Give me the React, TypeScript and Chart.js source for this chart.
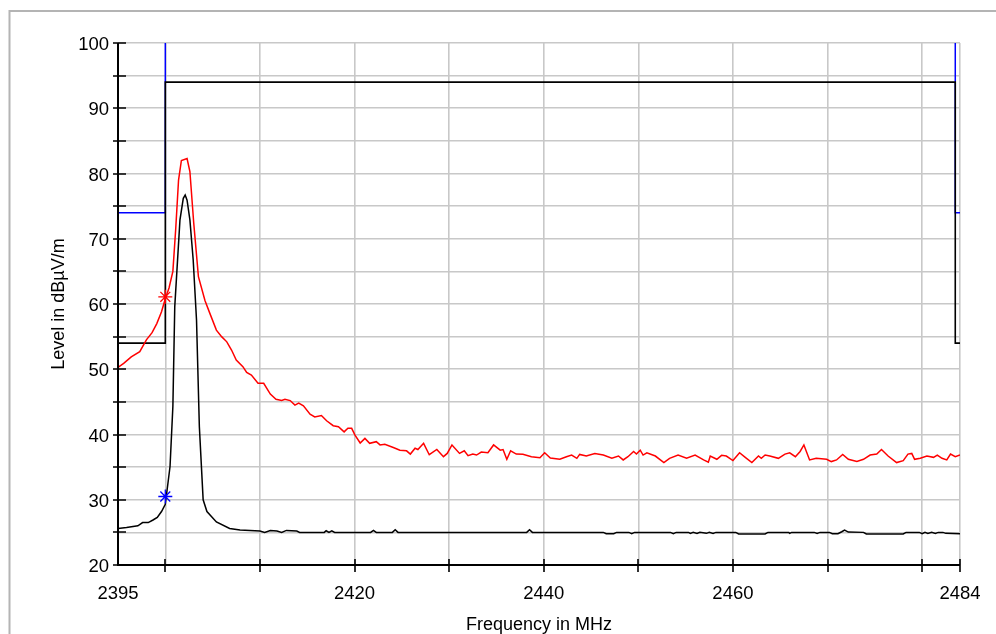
import React, { useEffect, useRef } from "react";
import { Chart, registerables } from "chart.js";

Chart.register(...registerables);

// ---- Data ----
const redFreq = [
  2395.0, 2395.6, 2396.4, 2397.3, 2398.0, 2398.6, 2399.1, 2399.6, 2400.0, 2400.4,
  2400.8, 2401.1, 2401.4, 2401.7, 2402.3, 2402.6, 2403.0, 2403.5, 2404.2, 2404.7,
  2405.4, 2405.95, 2406.5, 2407.0, 2407.5, 2408.2, 2408.6, 2409.1, 2409.8, 2410.4,
  2411.1, 2411.7, 2412.3, 2412.65, 2413.2, 2413.7, 2414.1, 2414.6, 2415.3, 2415.8,
  2416.5, 2417.05, 2417.75, 2418.3, 2418.9, 2419.3, 2419.7, 2420.05, 2420.6, 2421.1,
  2421.6, 2422.3, 2422.7, 2423.2, 2424.1, 2424.8, 2425.5, 2425.9, 2426.4, 2426.7,
  2427.3, 2427.9, 2428.7, 2429.4, 2429.8, 2430.3, 2431.1, 2431.6, 2432.0, 2432.5,
  2432.9, 2433.4, 2434.1, 2434.7, 2435.4, 2435.7, 2436.1, 2436.5, 2437.1, 2437.8,
  2438.7, 2439.6, 2440.1, 2440.7, 2441.7, 2442.4, 2442.95, 2443.5, 2443.8, 2444.5,
  2445.4, 2446.3, 2447.2, 2447.9, 2448.4, 2448.9, 2449.5, 2449.8, 2450.2, 2450.5,
  2450.9, 2451.8, 2452.7, 2453.3, 2454.2, 2455.1, 2456.0, 2456.9, 2457.4, 2457.6,
  2458.3, 2458.8, 2459.3, 2460.0, 2460.7, 2461.3, 2462.0, 2462.7, 2463.0, 2463.4,
  2463.9, 2464.8, 2465.5, 2466.0, 2466.6, 2467.1, 2467.5, 2468.1, 2468.8, 2469.9,
  2470.4, 2470.95, 2471.6, 2472.2, 2473.1, 2473.8, 2474.5, 2475.2, 2475.7, 2476.4,
  2477.3, 2478.0, 2478.5, 2478.9, 2479.2, 2479.8, 2480.5, 2481.2, 2481.6, 2482.1,
  2482.6, 2483.0, 2483.5, 2484.0,
];
const redLevel = [
  50.3, 50.9, 51.9, 52.7, 54.5, 55.6, 57.0, 58.8, 60.8, 62.5,
  65.0, 71.5, 79.0, 82.0, 82.3, 80.3, 72.5, 64.2, 60.5, 58.6,
  56.0, 55.0, 54.2, 52.95, 51.4, 50.4, 49.5, 49.1, 47.85, 47.85,
  46.2, 45.4, 45.2, 45.4, 45.2, 44.5, 44.8, 44.4, 43.1, 42.7,
  42.9, 42.1, 41.35, 41.2, 40.4, 40.95, 40.95, 39.9, 38.7, 39.4,
  38.65, 38.9, 38.4, 38.5, 38.0, 37.6, 37.5, 37.0, 37.9, 37.7,
  38.65, 36.9, 37.7, 36.6, 37.1, 38.4, 37.1, 37.5, 36.75, 37.0,
  36.85, 37.3, 37.2, 38.4, 37.6, 37.7, 36.2, 37.5, 37.0, 36.96,
  36.6, 36.45, 37.2, 36.4, 36.2, 36.6, 36.85, 36.35, 36.95, 36.7,
  37.1, 36.85, 36.35, 36.7, 36.1, 36.6, 37.4, 37.0, 37.6, 36.85,
  37.2, 36.7, 35.7, 36.35, 36.85, 36.35, 36.85, 36.1, 35.75, 36.7,
  36.2, 36.8, 36.7, 36.0, 37.2, 36.5, 35.7, 36.7, 36.35, 36.85,
  36.7, 36.35, 37.0, 37.2, 36.6, 37.4, 38.4, 36.1, 36.35, 36.2,
  35.85, 36.1, 36.95, 36.2, 35.85, 36.2, 36.85, 37.0, 37.7, 36.7,
  35.7, 36.0, 37.0, 37.1, 36.2, 36.35, 36.7, 36.5, 36.85, 36.35,
  36.1, 37.0, 36.6, 36.85,
];

const blackFreq = [
  2395.0, 2395.9, 2397.1, 2397.6, 2398.2, 2398.7, 2399.15, 2399.6, 2400.0, 2400.5,
  2400.8, 2401.0, 2401.55, 2401.9, 2402.1, 2402.3, 2402.6, 2402.95, 2403.3, 2403.6,
  2404.0, 2404.4, 2405.4, 2406.8, 2407.9, 2410.0, 2410.5, 2411.1, 2411.8, 2412.3,
  2412.8, 2413.9, 2414.2, 2416.8, 2417.0, 2417.3, 2417.6, 2417.9, 2421.7, 2422.0,
  2422.3, 2424.0, 2424.3, 2424.6, 2438.2, 2438.5, 2438.8, 2446.3, 2446.6, 2447.4,
  2447.7, 2449.0, 2449.3, 2449.6, 2453.4, 2453.7, 2454.0, 2455.3, 2455.5, 2455.8,
  2456.2, 2456.5, 2457.2, 2457.5, 2457.9, 2458.2, 2460.3, 2460.6, 2463.4, 2463.7,
  2465.9, 2466.0, 2466.2, 2468.6, 2468.9, 2469.2, 2470.2, 2470.5, 2471.1, 2471.5,
  2471.8, 2472.2, 2473.8, 2474.1, 2478.0, 2478.3, 2479.7, 2480.0, 2480.3, 2480.6,
  2481.0, 2481.4, 2481.7, 2482.2, 2482.5, 2484.0,
];
const blackLevel = [
  25.6, 25.75, 26.0, 26.5, 26.5, 26.9, 27.3, 28.2, 29.3, 35.1,
  44.3, 59.6, 72.9, 76.2, 76.7, 75.9, 72.9, 66.7, 57.5, 41.2,
  30.0, 28.2, 26.6, 25.6, 25.35, 25.2, 25.0, 25.3, 25.2, 25.0,
  25.3, 25.2, 25.0, 25.0, 25.25, 25.0, 25.25, 25.0, 25.0, 25.3,
  25.0, 25.0, 25.4, 25.0, 25.0, 25.4, 25.0, 25.0, 24.8, 24.8,
  25.0, 25.0, 24.8, 25.0, 25.0, 24.8, 25.0, 25.0, 24.85, 25.0,
  24.85, 25.0, 24.85, 25.0, 24.85, 25.0, 25.0, 24.75, 24.75, 25.0,
  25.0, 24.85, 25.0, 25.0, 24.85, 25.0, 25.0, 24.8, 24.8, 25.1,
  25.35, 25.05, 25.0, 24.75, 24.75, 25.0, 25.0, 24.8, 25.0, 24.85,
  25.0, 24.85, 25.0, 25.0, 24.85, 24.8,
];

// Limit lines (null = gap)
const avgLimitFreq = [2395, 2400, 2400, 2483.5, 2483.5, 2484];
const avgLimitLevel = [54, 54, 94, 94, 54, 54];
const peakLimitFreq = [2395, 2400, 2400, 2442, 2483.5, 2483.5, 2484];
const peakLimitLevel: (number | null)[] = [74, 74, 100, null, 100, 74, 74];

// Markers
const peakMarker = { freq: 2400, level: 61.1 };
const avgMarker = { freq: 2400, level: 30.5 };

// Axes
const xTickValues = [2395, 2400, 2410, 2420, 2430, 2440, 2450, 2460, 2470, 2480, 2484];
const xTickMarks = [2400, 2410, 2420, 2430, 2440, 2450, 2460, 2470, 2480, 2484];
const xLabelValues = [2395, 2420, 2440, 2460, 2484];
const yTickValues = [20, 25, 30, 35, 40, 45, 50, 55, 60, 65, 70, 75, 80, 85, 90, 95, 100];
const yLabelValues = [20, 30, 40, 50, 60, 70, 80, 90, 100];
const xTitle = "Frequency in MHz";
const yTitle = "Level in dBµV/m";

const FONT = "'Liberation Sans', Arial, Helvetica, sans-serif";

function pts(xs: number[], ys: (number | null)[]) {
  return xs.map((x, i) => ({ x, y: ys[i] }));
}

const decorPlugin = {
  id: "decor",
  beforeDraw(chart: any) {
    const ctx = chart.ctx;
    ctx.save();
    ctx.strokeStyle = "#b4b4b4";
    ctx.lineWidth = 2;
    ctx.strokeRect(9.5, 11, 1100, 1100);
    ctx.restore();
  },
  afterDraw(chart: any) {
    const ctx = chart.ctx;
    const xs = chart.scales.x;
    const ys = chart.scales.y;
    const a = chart.chartArea;
    ctx.save();
    ctx.strokeStyle = "#000";
    ctx.lineWidth = 2;
    ctx.beginPath();
    ctx.moveTo(a.left, a.top);
    ctx.lineTo(a.left, a.bottom);
    ctx.lineTo(a.right, a.bottom);
    ctx.stroke();
    ctx.lineWidth = 1.6;
    ctx.beginPath();
    for (const v of yTickValues) {
      const py = Math.round(ys.getPixelForValue(v));
      ctx.moveTo(a.left - 5, py);
      ctx.lineTo(a.left + 8, py);
    }
    for (const v of xTickMarks) {
      const px = Math.round(xs.getPixelForValue(v));
      ctx.moveTo(px, a.bottom - 6);
      ctx.lineTo(px, a.bottom + 7);
    }
    ctx.stroke();

    ctx.fillStyle = "#000";
    ctx.font = `18px ${FONT}`;
    ctx.textAlign = "center";
    ctx.textBaseline = "alphabetic";
    ctx.fillText(xTitle, (a.left + a.right) / 2, 630);
    ctx.translate(64, (a.top + a.bottom) / 2);
    ctx.rotate(-Math.PI / 2);
    ctx.fillText(yTitle, 0, 0);
    ctx.restore();
  },
};

export default function App() {
  const ref = useRef<HTMLCanvasElement | null>(null);
  useEffect(() => {
    document.body.style.margin = "0";
    const canvas = ref.current!;
    const chart = new Chart(canvas, {
      type: "line",
      data: {
        datasets: [
          {
            data: [{ x: peakMarker.freq, y: peakMarker.level }],
            showLine: false,
            pointStyle: "star",
            pointRadius: 7,
            borderColor: "#ff0000",
            backgroundColor: "#ff0000",
            borderWidth: 1.3,
          },
          {
            data: [{ x: avgMarker.freq, y: avgMarker.level }],
            showLine: false,
            pointStyle: "star",
            pointRadius: 7,
            borderColor: "#0000ff",
            backgroundColor: "#0000ff",
            borderWidth: 1.3,
          },
          {
            data: pts(redFreq, redLevel),
            borderColor: "#ff0000",
            borderWidth: 1.5,
            pointRadius: 0,
            tension: 0,
          },
          {
            data: pts(blackFreq, blackLevel),
            borderColor: "#000000",
            borderWidth: 1.5,
            pointRadius: 0,
            tension: 0,
          },
          {
            data: pts(avgLimitFreq, avgLimitLevel),
            borderColor: "#000000",
            borderWidth: 1.6,
            pointRadius: 0,
            tension: 0,
          },
          {
            data: pts(peakLimitFreq, peakLimitLevel),
            borderColor: "#0000ff",
            borderWidth: 1.5,
            pointRadius: 0,
            tension: 0,
            spanGaps: false,
          },
        ],
      },
      options: {
        animation: false,
        responsive: false,
        maintainAspectRatio: false,
        layout: { padding: { left: 0, right: 36, top: 43, bottom: 0 } },
        plugins: { legend: { display: false }, tooltip: { enabled: false } },
        scales: {
          x: {
            type: "linear",
            min: 2395,
            max: 2484,
            afterBuildTicks: (s: any) => {
              s.ticks = xTickValues.map((v) => ({ value: v }));
            },
            afterFit: (s: any) => {
              s.height = 69;
              s.paddingLeft = 0;
              s.paddingRight = 0;
            },
            grid: { color: "#c8c8c8", lineWidth: 1.6, drawTicks: false },
            border: { display: false },
            ticks: {
              padding: 18,
              autoSkip: false,
              maxRotation: 0,
              color: "#000",
              font: { family: FONT, size: 18.5 },
              callback: (v: any) => (xLabelValues.includes(Number(v)) ? String(v) : ""),
            },
          },
          y: {
            type: "linear",
            min: 20,
            max: 100,
            afterBuildTicks: (s: any) => {
              s.ticks = yTickValues.map((v) => ({ value: v }));
            },
            afterFit: (s: any) => {
              s.width = 118;
              s.paddingTop = 0;
              s.paddingBottom = 0;
            },
            grid: { color: "#c8c8c8", lineWidth: 1.6, drawTicks: false },
            border: { display: false },
            ticks: {
              padding: 9,
              labelOffset: 2,
              autoSkip: false,
              color: "#000",
              font: { family: FONT, size: 18.5 },
              callback: (v: any) => (yLabelValues.includes(Number(v)) ? String(v) : ""),
            },
          },
        },
      },
      plugins: [decorPlugin],
    } as any);
    return () => chart.destroy();
  }, []);
  return (
    <div style={{ position: "absolute", left: 0, top: 0, width: 996, height: 634, background: "#fff" }}>
      <canvas ref={ref} width={996} height={634} style={{ display: "block" }} />
    </div>
  );
}
